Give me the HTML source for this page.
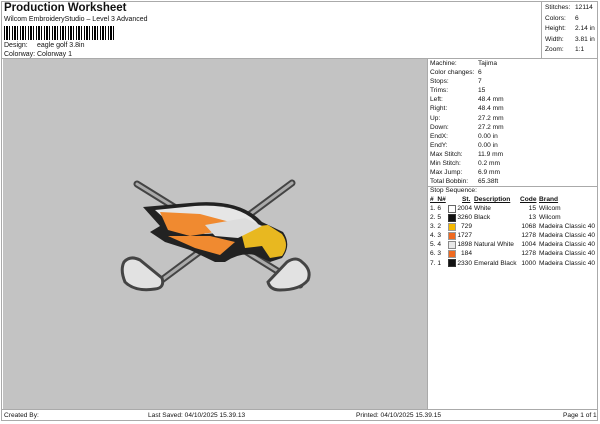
<!DOCTYPE html>
<html><head><style>
body{margin:0;width:600px;height:424px;background:#fff;font-family:"Liberation Sans",sans-serif;color:#111;position:relative;overflow:hidden}
.a{position:absolute;white-space:nowrap}
.s{font-size:7px}
.t{font-size:6.6px}
</style></head><body>
<div class="a" style="left:1px;top:1px;width:597px;height:420px;border:1px solid #aaa;box-sizing:border-box"></div>
<div class="a" style="left:541px;top:1px;width:1px;height:57px;background:#aaa"></div>
<div class="a" style="left:1px;top:58px;width:597px;height:1px;background:#aaa"></div>
<div class="a" style="left:4px;top:2px;font-size:11.5px;font-weight:bold">Production Worksheet</div>
<div class="a s" style="left:4px;top:16px">Wilcom EmbroideryStudio – Level 3 Advanced</div>
<div class="a" style="left:4px;top:26px;width:112px;height:14px;background:repeating-linear-gradient(90deg,#000 0 1px,#fff 1px 2px,#000 2px 4px,#fff 4px 5px,#000 5px 6px,#fff 6px 8px)"></div>
<div class="a s" style="left:4px;top:42px">Design:</div><div class="a s" style="left:37px;top:42px">eagle golf 3.8in</div>
<div class="a s" style="left:4px;top:51px">Colorway:</div><div class="a s" style="left:37px;top:51px">Colorway 1</div>
<div class="a t" style="left:545px;top:3px;line-height:10.5px">Stitches:<br>Colors:<br>Height:<br>Width:<br>Zoom:</div>
<div class="a t" style="left:575px;top:3px;line-height:10.5px">12114<br>6<br>2.14 in<br>3.81 in<br>1:1</div>
<div class="a" style="left:3px;top:59px;width:424px;height:350px;background:#c3c3c3"></div>
<div class="a" style="left:427px;top:59px;width:1px;height:350px;background:#aaa"></div>
<div class="a" style="left:428px;top:186px;width:170px;height:1px;background:#aaa"></div>
<div class="a" style="left:1px;top:409px;width:597px;height:1px;background:#aaa"></div>
<div class="a t" style="left:430px;top:59px;line-height:9.1px">Machine:<br>Color changes:<br>Stops:<br>Trims:<br>Left:<br>Right:<br>Up:<br>Down:<br>EndX:<br>EndY:<br>Max Stitch:<br>Min Stitch:<br>Max Jump:<br>Total Bobbin:</div>
<div class="a t" style="left:478px;top:59px;line-height:9.1px">Tajima<br>6<br>7<br>15<br>48.4 mm<br>48.4 mm<br>27.2 mm<br>27.2 mm<br>0.00 in<br>0.00 in<br>11.9 mm<br>0.2 mm<br>6.9 mm<br>65.38ft</div>
<div class="a t" style="left:430px;top:187px">Stop Sequence:</div>
<div class="a t" style="left:430px;top:196px;font-weight:bold;text-decoration:underline">#&nbsp; N#</div>
<div class="a t" style="left:462px;top:196px;font-weight:bold;text-decoration:underline">St.</div>
<div class="a t" style="left:474px;top:196px;font-weight:bold;text-decoration:underline">Description</div>
<div class="a t" style="left:520px;top:196px;font-weight:bold;text-decoration:underline">Code</div>
<div class="a t" style="left:539px;top:196px;font-weight:bold;text-decoration:underline">Brand</div>
<div class="a t" style="left:430px;top:204px;line-height:9.1px">1. 6<br>2. 5<br>3. 2<br>4. 3<br>5. 4<br>6. 3<br>7. 1</div>
<div class="a" style="left:448px;top:205px;width:6px;height:6px;border:1px solid #666;background:#fff"></div>
<div class="a" style="left:448px;top:214px;width:6px;height:6px;border:1px solid #333;background:#111"></div>
<div class="a" style="left:448px;top:223px;width:6px;height:6px;border:1px solid #999;background:#f5b800"></div>
<div class="a" style="left:448px;top:232px;width:6px;height:6px;border:1px solid #999;background:#f06a20"></div>
<div class="a" style="left:448px;top:241px;width:6px;height:6px;border:1px solid #888;background:#e8e8e8"></div>
<div class="a" style="left:448px;top:250px;width:6px;height:6px;border:1px solid #999;background:#f06a20"></div>
<div class="a" style="left:448px;top:259px;width:6px;height:6px;border:1px solid #333;background:#111"></div>
<div class="a t" style="left:456px;top:204px;line-height:9.1px;text-align:right;width:16px">2004<br>3260<br>729<br>1727<br>1898<br>184<br>2330</div>
<div class="a t" style="left:474px;top:204px;line-height:9.1px">White<br>Black<br><br><br>Natural White<br><br>Emerald Black</div>
<div class="a t" style="left:514px;top:204px;line-height:9.1px;text-align:right;width:22px">15<br>13<br>1068<br>1278<br>1004<br>1278<br>1000</div>
<div class="a t" style="left:539px;top:204px;line-height:9.1px">Wilcom<br>Wilcom<br>Madeira Classic 40<br>Madeira Classic 40<br>Madeira Classic 40<br>Madeira Classic 40<br>Madeira Classic 40</div>
<div class="a t" style="left:4px;top:412px">Created By:</div>
<div class="a t" style="left:148px;top:412px">Last Saved: 04/10/2025 15.39.13</div>
<div class="a t" style="left:356px;top:412px">Printed: 04/10/2025 15.39.15</div>
<div class="a t" style="left:563px;top:412px">Page 1 of 1</div>
<svg class="a" style="left:0;top:0" width="600" height="424">
<g stroke-linecap="round">
<line x1="137" y1="184" x2="300" y2="285" stroke="#444" stroke-width="7"/>
<line x1="137" y1="184" x2="300" y2="285" stroke="#aaa" stroke-width="3"/>
<line x1="292" y1="183" x2="155" y2="285" stroke="#444" stroke-width="7"/>
<line x1="292" y1="183" x2="155" y2="285" stroke="#aaa" stroke-width="3"/>
</g>
<path d="M124,262 Q130,255 140,260 L162,278 Q165,288 155,289 Q135,292 125,282 Q120,270 124,262Z" fill="#e2e2e2" stroke="#444" stroke-width="3"/>
<path d="M302,262 Q296,256 287,262 L268,282 Q270,290 280,290 Q300,290 308,280 Q312,270 302,262Z" fill="#e2e2e2" stroke="#444" stroke-width="3"/>
<path d="M143,207 L190,203 Q240,198 262,222 L283,232 Q292,245 282,258 L270,262 L255,255 Q240,252 225,262 L215,262 L190,250 L165,242 L150,232 L160,226 Z" fill="#222"/>
<path d="M155,210 L195,206 Q240,203 258,224 L232,232 L205,234 L175,228Z" fill="#e6e6e6"/>
<path d="M160,212 L200,214 L230,222 L215,232 L190,236 L168,230Z" fill="#f08a30"/>
<path d="M168,236 L210,236 L235,242 L220,255 L195,248Z" fill="#f08a30"/>
<path d="M240,228 L268,225 L282,234 Q290,245 282,256 L270,258 L262,246 L245,248Z" fill="#e8b820"/>
<path d="M205,225 L245,218 L262,226 L238,238 L215,236Z" fill="#ddd"/>
</svg>
</body></html>
